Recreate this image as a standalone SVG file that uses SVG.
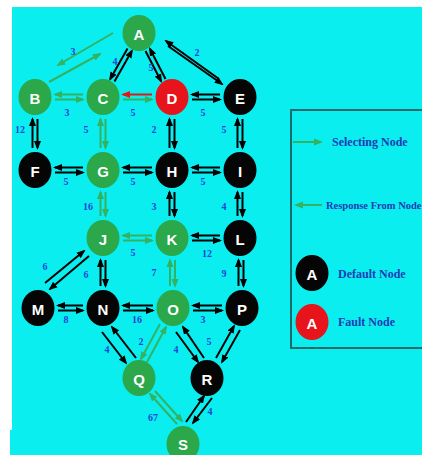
<svg xmlns="http://www.w3.org/2000/svg" width="422" height="455" viewBox="0 0 422 455">
<style>
.ng{fill:#2aa84a}.nb{fill:#050505}.nr{fill:#e8141c}
.lt{fill:#fff;font:bold 15px "Liberation Sans",Arial,sans-serif;text-anchor:middle;dominant-baseline:central}
.lab{fill:#1f45d6;font:bold 10px "Liberation Serif","Times New Roman",serif;text-anchor:middle}
.leg{fill:#1c3cb4;font:bold 12px "Liberation Serif","Times New Roman",serif}
.cb{stroke:#000;stroke-width:2;fill:none;marker-end:url(#ab)}
.cg{stroke:#33b262;stroke-width:2;fill:none;marker-end:url(#ag)}
.cr{stroke:#e01818;stroke-width:2;fill:none;marker-end:url(#ar)}
</style>
<defs>
<marker id="ab" markerUnits="userSpaceOnUse" markerWidth="9" markerHeight="8" refX="7" refY="4" orient="auto" viewBox="0 0 9 8"><path d="M0,0.5 L9,4 L0,7.5 z" fill="#000"/></marker>
<marker id="ag" markerUnits="userSpaceOnUse" markerWidth="9" markerHeight="8" refX="7" refY="4" orient="auto" viewBox="0 0 9 8"><path d="M0,0.5 L9,4 L0,7.5 z" fill="#33b262"/></marker>
<marker id="ar" markerUnits="userSpaceOnUse" markerWidth="9" markerHeight="8" refX="7" refY="4" orient="auto" viewBox="0 0 9 8"><path d="M0,0.5 L9,4 L0,7.5 z" fill="#e01818"/></marker>
</defs>
<rect x="0" y="0" width="422" height="455" fill="#ffffff"/>
<rect x="12" y="7" width="410" height="448" fill="#0aeef0"/>
<rect x="10" y="430" width="4" height="25" fill="#0aeef0"/>

<g id="connectors">
<!-- A-B -->
<line class="cg" x1="113" y1="33" x2="58" y2="65"/>
<line class="cg" x1="49" y1="82" x2="100" y2="54"/>
<!-- A-C -->
<line class="cb" x1="127.5" y1="48.4" x2="110.1" y2="79.2"/>
<line class="cb" x1="114.5" y1="81.6" x2="131.9" y2="50.8"/>
<!-- A-D -->
<line class="cb" x1="145.5" y1="51" x2="161.1" y2="81.2"/>
<line class="cb" x1="165.5" y1="79" x2="149.9" y2="48.8"/>
<!-- A-E -->
<line class="cb" x1="219" y1="79" x2="166" y2="41"/>
<line class="cb" x1="168" y1="46" x2="222" y2="84"/>
<!-- row 97 -->
<line class="cg" x1="83" y1="94.5" x2="55" y2="94.5"/>
<line class="cg" x1="55" y1="99.5" x2="83" y2="99.5"/>
<line class="cr" x1="152" y1="94.5" x2="123" y2="94.5"/>
<line class="cg" x1="123" y1="99.5" x2="152" y2="99.5"/>
<line class="cb" x1="220" y1="94.5" x2="192" y2="94.5"/>
<line class="cb" x1="192" y1="99.5" x2="220" y2="99.5"/>
<!-- row 170 -->
<line class="cb" x1="83" y1="167.5" x2="55" y2="167.5"/>
<line class="cb" x1="55" y1="172.5" x2="83" y2="172.5"/>
<line class="cb" x1="152" y1="167.5" x2="123" y2="167.5"/>
<line class="cb" x1="123" y1="172.5" x2="152" y2="172.5"/>
<line class="cb" x1="220" y1="167.5" x2="192" y2="167.5"/>
<line class="cb" x1="192" y1="172.5" x2="220" y2="172.5"/>
<!-- row 238 -->
<line class="cg" x1="152" y1="235.5" x2="123" y2="235.5"/>
<line class="cg" x1="123" y1="240.5" x2="152" y2="240.5"/>
<line class="cb" x1="220" y1="235.5" x2="192" y2="235.5"/>
<line class="cb" x1="192" y1="240.5" x2="220" y2="240.5"/>
<!-- row 308 -->
<line class="cb" x1="83" y1="305.5" x2="58" y2="305.5"/>
<line class="cb" x1="58" y1="310.5" x2="83" y2="310.5"/>
<line class="cb" x1="153" y1="305.5" x2="123" y2="305.5"/>
<line class="cb" x1="123" y1="310.5" x2="153" y2="310.5"/>
<line class="cb" x1="222" y1="305.5" x2="193" y2="305.5"/>
<line class="cb" x1="193" y1="310.5" x2="222" y2="310.5"/>
<!-- verticals 97-170 -->
<line class="cb" x1="32.5" y1="148" x2="32.5" y2="119"/>
<line class="cb" x1="37.5" y1="119" x2="37.5" y2="148"/>
<line class="cg" x1="100.5" y1="148" x2="100.5" y2="119"/>
<line class="cg" x1="105.5" y1="119" x2="105.5" y2="148"/>
<line class="cb" x1="169.5" y1="148" x2="169.5" y2="119"/>
<line class="cb" x1="174.5" y1="119" x2="174.5" y2="148"/>
<line class="cb" x1="237.5" y1="148" x2="237.5" y2="119"/>
<line class="cb" x1="242.5" y1="119" x2="242.5" y2="148"/>
<!-- verticals 170-238 -->
<line class="cg" x1="100.5" y1="216" x2="100.5" y2="192"/>
<line class="cg" x1="105.5" y1="192" x2="105.5" y2="216"/>
<line class="cb" x1="169.5" y1="216" x2="169.5" y2="192"/>
<line class="cb" x1="174.5" y1="192" x2="174.5" y2="216"/>
<line class="cb" x1="237.5" y1="216" x2="237.5" y2="192"/>
<line class="cb" x1="242.5" y1="192" x2="242.5" y2="216"/>
<!-- verticals 238-308 -->
<line class="cb" x1="100.5" y1="286" x2="100.5" y2="260"/>
<line class="cb" x1="105.5" y1="260" x2="105.5" y2="286"/>
<line class="cg" x1="170" y1="286" x2="170" y2="260"/>
<line class="cg" x1="175" y1="260" x2="175" y2="286"/>
<line class="cb" x1="238.5" y1="286" x2="238.5" y2="260"/>
<line class="cb" x1="243.5" y1="260" x2="243.5" y2="286"/>
<!-- J-M -->
<line class="cb" x1="45" y1="283" x2="84" y2="251"/>
<line class="cb" x1="89" y1="256" x2="50" y2="289"/>
<!-- N-Q -->
<line class="cb" x1="102" y1="332" x2="126" y2="363"/>
<line class="cb" x1="136" y1="358" x2="112" y2="327"/>
<!-- O-Q -->
<line class="cg" x1="160" y1="324" x2="141" y2="359"/>
<line class="cg" x1="147" y1="362" x2="166" y2="327"/>
<!-- O-R -->
<line class="cb" x1="176" y1="332" x2="198" y2="362"/>
<line class="cb" x1="204" y1="358" x2="183" y2="327"/>
<!-- P-R -->
<line class="cb" x1="216" y1="358" x2="234" y2="326"/>
<line class="cb" x1="240" y1="330" x2="222" y2="362"/>
<!-- Q-S -->
<line class="cg" x1="177" y1="424" x2="150" y2="394"/>
<line class="cg" x1="155" y1="391" x2="182" y2="421"/>
<!-- R-S -->
<line class="cb" x1="186" y1="422" x2="204" y2="396"/>
<line class="cb" x1="212" y1="398" x2="193" y2="423"/>
</g>

<g id="labels">
<text class="lab" x="73" y="55">3</text>
<text class="lab" x="115" y="65">4</text>
<text class="lab" x="151" y="71">5</text>
<text class="lab" x="197" y="56">2</text>
<text class="lab" x="67" y="116">3</text>
<text class="lab" x="133" y="116">5</text>
<text class="lab" x="203" y="116">5</text>
<text class="lab" x="20" y="133">12</text>
<text class="lab" x="86" y="133">5</text>
<text class="lab" x="154" y="133">2</text>
<text class="lab" x="224" y="133">5</text>
<text class="lab" x="66" y="185">5</text>
<text class="lab" x="133" y="185">5</text>
<text class="lab" x="203" y="185">5</text>
<text class="lab" x="88" y="210">16</text>
<text class="lab" x="154" y="210">3</text>
<text class="lab" x="224" y="210">4</text>
<text class="lab" x="133" y="256">5</text>
<text class="lab" x="207" y="257">12</text>
<text class="lab" x="45" y="270">6</text>
<text class="lab" x="86" y="278">6</text>
<text class="lab" x="154" y="276">7</text>
<text class="lab" x="224" y="277">9</text>
<text class="lab" x="66" y="323">8</text>
<text class="lab" x="137" y="323">16</text>
<text class="lab" x="203" y="323">3</text>
<text class="lab" x="107" y="353">4</text>
<text class="lab" x="141" y="345">2</text>
<text class="lab" x="176" y="353">4</text>
<text class="lab" x="209" y="345">5</text>
<text class="lab" x="153" y="421">67</text>
<text class="lab" x="210" y="415">4</text>
</g>

<g id="A"><ellipse class="ng" cx="139" cy="33" rx="16.5" ry="18"/><text class="lt" x="139" y="34">A</text></g>
<g id="B"><ellipse class="ng" cx="35" cy="97" rx="16.5" ry="18"/><text class="lt" x="35" y="98">B</text></g>
<g id="C"><ellipse class="ng" cx="103" cy="97" rx="16.5" ry="18"/><text class="lt" x="103" y="98">C</text></g>
<g id="D"><ellipse class="nr" cx="172" cy="97" rx="16.5" ry="18"/><text class="lt" x="172" y="98">D</text></g>
<g id="E"><ellipse class="nb" cx="240" cy="97" rx="16.5" ry="18"/><text class="lt" x="240" y="98">E</text></g>
<g id="F"><ellipse class="nb" cx="35" cy="170" rx="16.5" ry="18"/><text class="lt" x="35" y="171">F</text></g>
<g id="G"><ellipse class="ng" cx="103" cy="170" rx="16.5" ry="18"/><text class="lt" x="103" y="171">G</text></g>
<g id="H"><ellipse class="nb" cx="172" cy="170" rx="16.5" ry="18"/><text class="lt" x="172" y="171">H</text></g>
<g id="I"><ellipse class="nb" cx="240" cy="170" rx="16.5" ry="18"/><text class="lt" x="240" y="171">I</text></g>
<g id="J"><ellipse class="ng" cx="103" cy="238" rx="16.5" ry="18"/><text class="lt" x="103" y="239">J</text></g>
<g id="K"><ellipse class="ng" cx="172" cy="238" rx="16.5" ry="18"/><text class="lt" x="172" y="239">K</text></g>
<g id="L"><ellipse class="nb" cx="240" cy="238" rx="16.5" ry="18"/><text class="lt" x="240" y="239">L</text></g>
<g id="M"><ellipse class="nb" cx="38" cy="308" rx="16.5" ry="18"/><text class="lt" x="38" y="309">M</text></g>
<g id="N"><ellipse class="nb" cx="103" cy="308" rx="16.5" ry="18"/><text class="lt" x="103" y="309">N</text></g>
<g id="O"><ellipse class="ng" cx="173" cy="308" rx="16.5" ry="18"/><text class="lt" x="173" y="309">O</text></g>
<g id="P"><ellipse class="nb" cx="242" cy="308" rx="16.5" ry="18"/><text class="lt" x="242" y="309">P</text></g>
<g id="Q"><ellipse class="ng" cx="139" cy="378" rx="16.5" ry="18"/><text class="lt" x="139" y="379">Q</text></g>
<g id="R"><ellipse class="nb" cx="207" cy="378" rx="16.5" ry="18"/><text class="lt" x="207" y="379">R</text></g>
<g id="S"><ellipse class="ng" cx="183" cy="444" rx="16.5" ry="18"/><text class="lt" x="183" y="444">S</text></g>

<g id="legend">
<rect x="291" y="110" width="140" height="238" fill="none" stroke="#1f6a6a" stroke-width="2"/>
<line class="cg" x1="293" y1="142" x2="321" y2="142"/>
<text class="leg" x="332" y="146">Selecting Node</text>
<line class="cg" x1="322" y1="205" x2="296" y2="205"/>
<text class="leg" x="326" y="209" style="font-size:10.5px">Response From Node</text>
<ellipse class="nb" cx="312" cy="273" rx="16.5" ry="18"/><text class="lt" x="312" y="274">A</text>
<text class="leg" x="338" y="278">Default Node</text>
<ellipse class="nr" cx="312" cy="322" rx="16.5" ry="18"/><text class="lt" x="312" y="323">A</text>
<text class="leg" x="338" y="326">Fault Node</text>
</g>
</svg>
